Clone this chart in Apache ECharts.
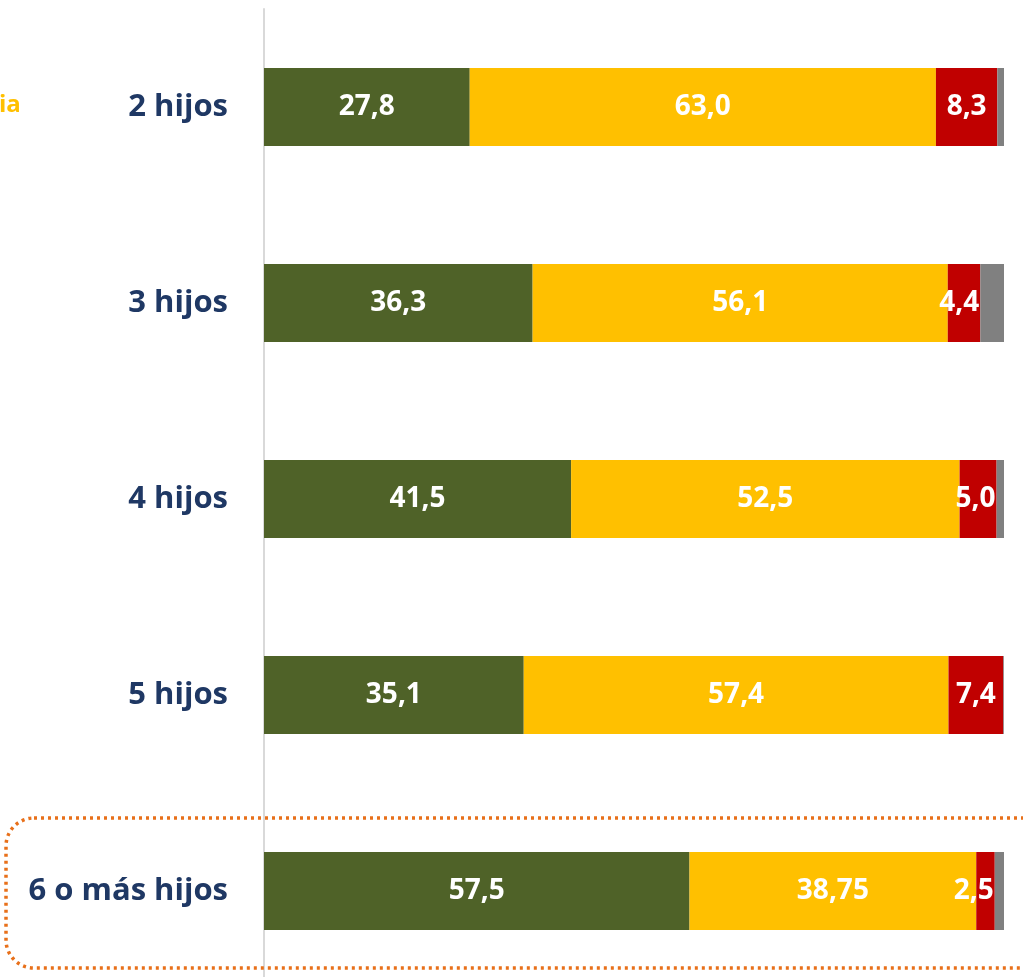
<!DOCTYPE html>
<html>
<head>
<meta charset="utf-8">
<script src="https://cdn.jsdelivr.net/npm/echarts@6/dist/echarts.min.js"></script>
<style>
  html, body { margin: 0; padding: 0; background: #fff; }
  #chart { width: 1023px; height: 977px; }
</style>
</head>
<body>
<div id="chart"></div>
<script>
// categorias (de arriba a abajo)
var categorias = ['2 hijos', '3 hijos', '4 hijos', '5 hijos', '6 o más hijos'];

// porcentajes por serie
var serieVerde = [27.8, 36.3, 41.5, 35.1, 57.5];
var serieAmarilla = [63.0, 56.1, 52.5, 57.4, 38.75];
var serieRoja = [8.3, 4.4, 5.0, 7.4, 2.5];
var serieGris = [0.9, 3.2, 1.0, 0.1, 1.25];

var colores = ['#4F6228', '#FFC000', '#C00000', '#808080'];

function fmt(v) {
  var s = (Math.round(v * 10) === v * 10) ? v.toFixed(1) : String(v);
  return s.replace('.', ',');
}

function serie(nombre, datos, color, conEtiqueta) {
  return {
    name: nombre,
    type: 'bar',
    stack: 'total',
    barWidth: 78,
    // segmentos estrechos: etiqueta pegada al extremo derecho
    data: datos.map(function (v) {
      return v < 7 ? { value: v, label: { position: 'insideRight', distance: 1 } } : v;
    }),
    itemStyle: { color: color },
    label: {
      show: conEtiqueta,
      position: 'inside',
      color: '#fff',
      fontFamily: 'Open Sans',
      fontWeight: 'bold',
      fontSize: 28,
      formatter: function (p) { return fmt(p.value); }
    }
  };
}

var chart = echarts.init(document.getElementById('chart'));
chart.setOption({
  animation: false,
  grid: { left: 264, right: 19, top: 9, bottom: -12, outerBoundsMode: 'none' },
  xAxis: {
    type: 'value',
    min: 0,
    max: 100,
    show: false
  },
  yAxis: {
    type: 'category',
    inverse: true,
    data: categorias,
    axisLine: { show: true, lineStyle: { color: '#D9D9D9', width: 2 } },
    axisTick: { show: false },
    axisLabel: {
      margin: 36,
      color: '#1F3864',
      fontFamily: 'Open Sans',
      fontWeight: 'bold',
      fontSize: 31
    }
  },
  series: [
    serie('verde', serieVerde, colores[0], true),
    serie('amarilla', serieAmarilla, colores[1], true),
    serie('roja', serieRoja, colores[2], true),
    serie('gris', serieGris, colores[3], false)
  ],
  graphic: [
    {
      type: 'text',
      left: -1,
      top: 93,
      style: {
        text: 'ia',
        fill: '#FFC000',
        fontFamily: 'Open Sans',
        fontWeight: 'bold',
        fontSize: 24
      }
    },
    {
      type: 'rect',
      shape: { x: 6, y: 818, width: 1060, height: 150, r: 28 },
      style: {
        fill: 'none',
        stroke: '#E8701A',
        lineWidth: 3.5,
        lineDash: [3, 4]
      },
      z: 10
    }
  ]
});
</script>
</body>
</html>
